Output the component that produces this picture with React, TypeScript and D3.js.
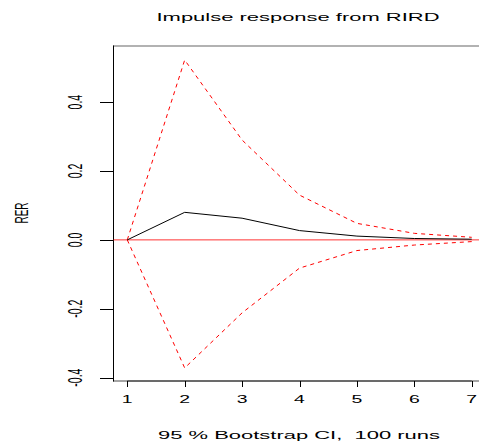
import React from "react";
import * as d3 from "d3";

// impulse response of RER to a RIRD shock, with bootstrap band
const horizons = [1, 2, 3, 4, 5, 6, 7];
const irf = [0, 0.08, 0.063, 0.027, 0.011, 0.004, 0.002];
const upper = [0, 0.5225, 0.29, 0.13, 0.048, 0.019, 0.0075];
const lower = [0, -0.372, -0.212, -0.082, -0.031, -0.015, -0.005];
const yTicks = [-0.4, -0.2, 0.0, 0.2, 0.4];

const W = 479;
const H = 444;
const SX = 1.85; // the reference text is stretched sideways

export default function App() {
  const x = d3.scaleLinear().domain([0.76, 7.24]).range([113.5, 485.5]);
  const y = d3.scaleLinear().domain([-0.409, 0.564]).range([380.7, 45.7]);

  const line = (vals: number[]) =>
    d3
      .line<number>()
      .x((_, i) => x(horizons[i]))
      .y((d) => y(d))(vals) as string;

  const font = "'Liberation Sans', Arial, sans-serif";

  return (
    <svg
      width={W}
      height={H}
      style={{ position: "absolute", left: 0, top: 0, background: "#fff" }}
      fontFamily={font}
    >
      {/* title */}
      <text x={298} y={20.7} fontSize={11.5} textAnchor="middle" textLength={283} lengthAdjust="spacingAndGlyphs">
        Impulse response from RIRD
      </text>

      {/* plot box */}
      <line x1={113} x2={W} y1={46} y2={46} stroke="#000" strokeWidth={1} opacity={0.6} />
      <line x1={113} x2={W} y1={381} y2={381} stroke="#000" strokeWidth={1} opacity={0.7} />
      <line x1={113.5} x2={113.5} y1={45.5} y2={381.5} stroke="#000" strokeWidth={1} />

      {/* zero line */}
      <line x1={113.5} x2={W} y1={y(0)} y2={y(0)} stroke="#ff0000" strokeWidth={1} opacity={0.8} />

      {/* bootstrap band */}
      <path d={line(upper)} fill="none" stroke="#ff0000" strokeWidth={1} strokeDasharray="4,4" />
      <path d={line(lower)} fill="none" stroke="#ff0000" strokeWidth={1} strokeDasharray="4,4" />

      {/* response */}
      <path d={line(irf)} fill="none" stroke="#000" strokeWidth={1} />

      {/* x axis */}
      <line x1={x(1)} x2={x(7)} y1={381} y2={381} stroke="#000" strokeWidth={1} opacity={0.7} />
      {horizons.map((h) => (
        <g key={h}>
          <line x1={Math.round(x(h)) + 0.5} x2={Math.round(x(h)) + 0.5} y1={381} y2={387} stroke="#000" />
          <text
            transform={`translate(${x(h)},402.5) scale(${SX},1)`}
            fontSize={10.5}
            textAnchor="middle"
          >
            {h}
          </text>
        </g>
      ))}

      {/* y axis */}
      {yTicks.map((t) => (
        <g key={t}>
          <line x1={100} x2={113} y1={Math.round(y(t)) + 0.5} y2={Math.round(y(t)) + 0.5} stroke="#000" />
          <text
            transform={`translate(81.5,${y(t)}) scale(${SX},1) rotate(-90)`}
            fontSize={10.5}
            textAnchor="middle"
          >
            {t.toFixed(1)}
          </text>
        </g>
      ))}

      {/* axis titles */}
      <text
        transform={`translate(28,213) scale(${SX},1) rotate(-90)`}
        fontSize={10}
        textAnchor="middle"
      >
        RER
      </text>
      <text x={299} y={438.5} fontSize={11.5} textAnchor="middle" textLength={282} lengthAdjust="spacingAndGlyphs">
        {"95 % Bootstrap CI,\u00A0 100 runs"}
      </text>
    </svg>
  );
}
